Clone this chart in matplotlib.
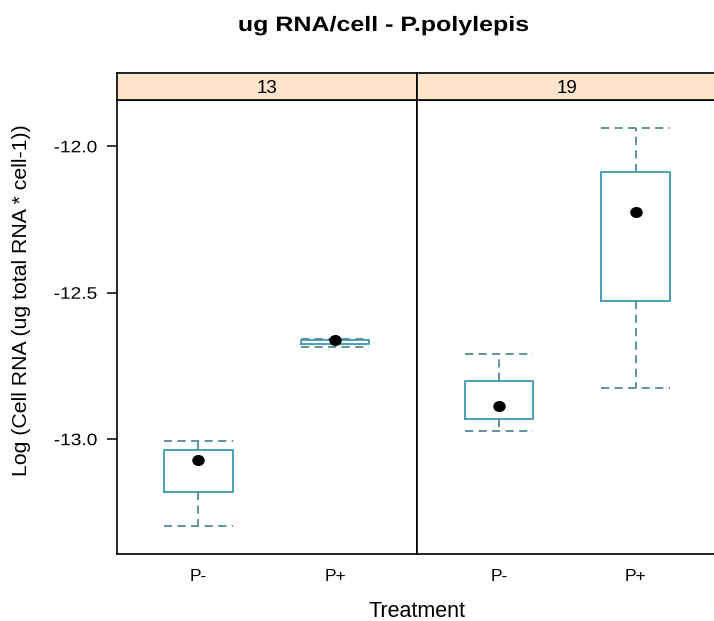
import numpy as np
import matplotlib
matplotlib.use("Agg")
import matplotlib.pyplot as plt
from matplotlib import patheffects
from matplotlib.path import Path
from matplotlib.markers import MarkerStyle
from matplotlib.transforms import Affine2D

# ---- data -------------------------------------------------------------
temperatures = ["13", "19"]
treatments = ["P-", "P+"]
# per temperature panel: [P-, P+]
whisker_lo = [[-13.297, -12.686], [-12.973, -12.824]]
quart_lo = [[-13.181, -12.674], [-12.931, -12.528]]
medians = [[-13.070, -12.660], [-12.886, -12.225]]
quart_hi = [[-13.036, -12.660], [-12.801, -12.087]]
whisker_hi = [[-13.005, -12.658], [-12.709, -11.937]]
y_ticks = [-13.0, -12.5, -12.0]

# ---- styling ----------------------------------------------------------
plt.rcParams["font.family"] = ["Liberation Sans", "DejaVu Sans"]
W, H = 714, 621
BOX_COL = "#3d97b8"
WHISK_COL = "#55899c"
STRIP_COL = "#ffe5cc"


class HStretch(patheffects.AbstractPathEffect):
    """Draw text glyphs widened horizontally about an anchor."""

    def __init__(self, factor, anchor="center"):
        super().__init__()
        self._factor = factor
        self._anchor = anchor

    def draw_path(self, renderer, gc, tpath, affine, rgbFace=None):
        pts = affine.transform(tpath.vertices)
        if len(pts):
            x0, x1 = pts[:, 0].min(), pts[:, 0].max()
            cx = {"center": 0.5 * (x0 + x1), "right": x1, "left": x0}[self._anchor]
        else:
            cx = 0.0
        tr = affine + Affine2D().translate(-cx, 0).scale(self._factor, 1).translate(cx, 0)
        renderer.draw_path(gc, tpath, tr, rgbFace)


def rect(x0, y0, x1, y1):
    return [x0 / W, 1 - y1 / H, (x1 - x0) / W, (y1 - y0) / H]


circ = Path.unit_circle()
dot = MarkerStyle(Path(circ.vertices * np.array([1.15, 1.0]), circ.codes))

all_vals = np.array(whisker_lo + whisker_hi).ravel()
lo, hi = all_vals.min(), all_vals.max()
pad = 0.07 * (hi - lo)
ylim = (lo - pad, hi + pad)

fig = plt.figure(figsize=(W / 100, H / 100), dpi=100)
fig.patch.set_facecolor("white")

panel_x = [(116.5, 417), (417, 717.5)]
positions = [1, 2]
for i, temp in enumerate(temperatures):
    x0, x1 = panel_x[i]
    ax = fig.add_axes(rect(x0, 100, x1, 554))
    stats = []
    for j in range(len(treatments)):
        stats.append(dict(whislo=whisker_lo[i][j], q1=quart_lo[i][j],
                          med=medians[i][j], q3=quart_hi[i][j],
                          whishi=whisker_hi[i][j], fliers=[]))
    ax.bxp(stats, positions=positions, widths=0.5, capwidths=0.5,
           showfliers=False,
           boxprops=dict(color=BOX_COL, linewidth=1.3),
           whiskerprops=dict(color=WHISK_COL, linewidth=1.3, linestyle=(0, (4.5, 3.0))),
           capprops=dict(color=WHISK_COL, linewidth=1.3, linestyle=(0, (4.5, 3.0))),
           medianprops=dict(linestyle="none"))
    ax.plot(positions, medians[i], linestyle="none", marker=dot,
            markersize=8, color="black", zorder=5)
    ax.set_xlim(0.4, 2.6)
    ax.set_ylim(*ylim)
    ax.set_xticks(positions)
    ax.set_xticklabels(treatments)
    ax.tick_params(axis="x", length=0, pad=10.5, labelsize=12.5)
    if i == 0:
        ax.set_yticks(y_ticks)
        ax.set_yticklabels([f"{v:.1f}" for v in y_ticks])
        ax.tick_params(axis="y", direction="out", length=7, width=1.1,
                       pad=7, labelsize=12)
        for lbl in ax.get_yticklabels():
            lbl.set_path_effects([HStretch(1.15, "right")])
    else:
        ax.set_yticks([])
    for sp in ax.spines.values():
        sp.set_linewidth(1.2)
        sp.set_color("black")

    sax = fig.add_axes(rect(x0, 73, x1, 100))
    sax.set_facecolor(STRIP_COL)
    sax.set_xticks([])
    sax.set_yticks([])
    for sp in sax.spines.values():
        sp.set_linewidth(1.2)
        sp.set_color("black")
    sax.text(0.5, 0.42, temp, transform=sax.transAxes, ha="center",
             va="center", fontsize=13.5)

fig.text(384 / W, 1 - 31 / H, "ug RNA/cell - P.polylepis", ha="center",
         va="baseline", fontsize=15, fontweight="bold",
         path_effects=[HStretch(1.2)])
fig.text(22 / W, 1 - 300 / H, "Log (Cell RNA (ug total RNA * cell-1))",
         rotation=90, ha="center", va="center", fontsize=15.3)
fig.text(417 / W, 1 - 617 / H, "Treatment", ha="center", va="baseline",
         fontsize=15.5)

fig.savefig("out.png", dpi=100, facecolor="white")
